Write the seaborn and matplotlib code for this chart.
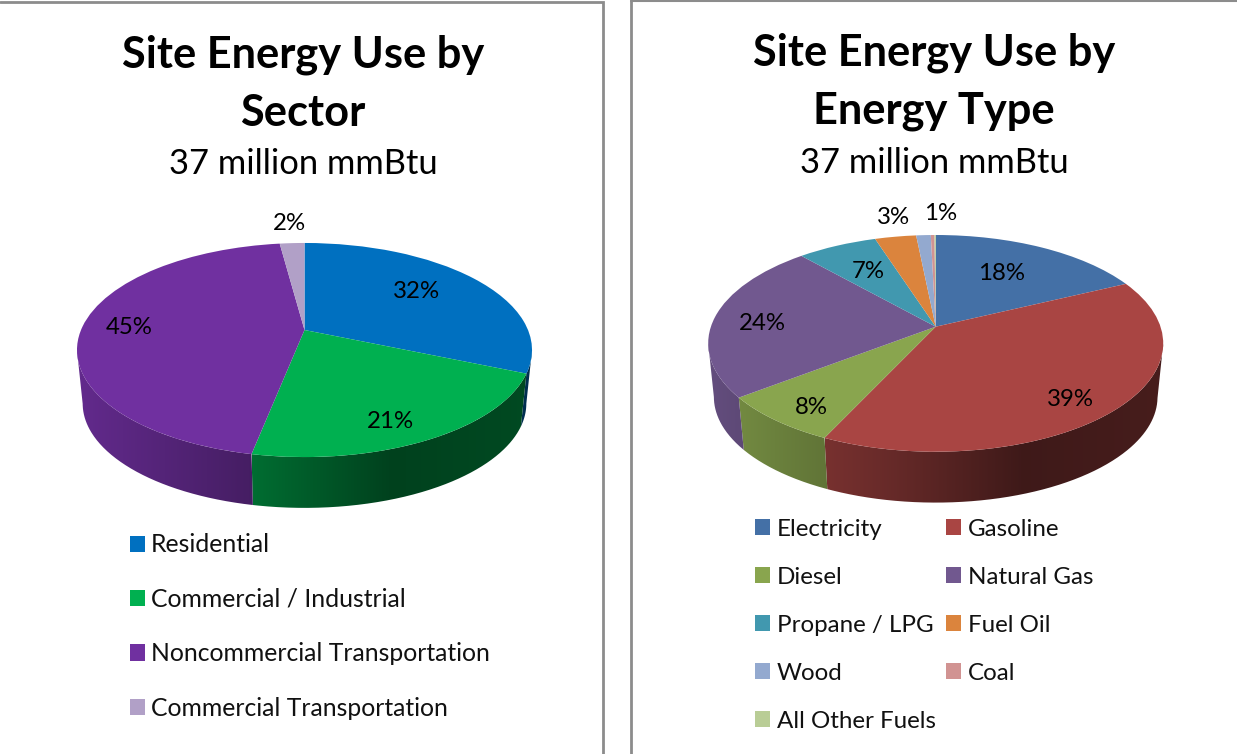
import numpy as np
import seaborn as sns
import matplotlib.pyplot as plt
from matplotlib.path import Path
from matplotlib.patches import PathPatch
from matplotlib.transforms import Transform

# data
sector_names = ['Residential', 'Commercial / Industrial', 'Noncommercial Transportation', 'Commercial Transportation']
sector_values = [31.4, 21.7, 44.8, 2.1]
sector_labels = ['32%', '21%', '45%', '2%']
fuel_names = ['Electricity', 'Gasoline', 'Diesel', 'Natural Gas', 'Propane / LPG', 'Fuel Oil', 'Wood', 'Coal', 'All Other Fuels']
fuel_values = [17.9, 39.1, 7.6, 23.8, 6.6, 3.4, 1.2, 0.3, 0.1]
fuel_labels = ['18%', '39%', '8%', '24%', '7%', '3%', '1%']
sector_colors = sns.color_palette(['#0070C0', '#00B050', '#7030A0', '#B1A0C7'])
fuel_colors = sns.color_palette(['#4470A6', '#A94543', '#89A54E', '#71588F', '#4198AF', '#DB843D', '#93A9CF', '#D19392', '#B9CD96'])

sns.set_theme(style='white')
plt.rcParams['font.family'] = ['Lato', 'DejaVu Sans']
W, H = 1237, 754


class TiltedDisc(Transform):
    # unit circle seen from above, near side looks bigger
    input_dims = 2
    output_dims = 2

    def __init__(self, cx, cy, a, b, k):
        super().__init__()
        self.cx, self.cy, self.a, self.b, self.k = cx, cy, a, b, k

    def transform_non_affine(self, values):
        v = np.asarray(values, dtype=float)
        d = 1 + self.k * v[:, 1]
        return np.column_stack([self.cx + self.a * v[:, 0] / d, self.cy - self.b * v[:, 1] / d])


def draw_wall(ax, wedge, color, top, low):
    th = np.radians(np.linspace(wedge.theta1, wedge.theta2, 400))
    keep = np.sin(th) < -top.k
    if keep.sum() < 2:
        return
    rim = np.column_stack([np.cos(th[keep]), np.sin(th[keep])])
    p1 = top.transform_non_affine(rim)
    p2 = low.transform_non_affine(rim)
    poly = np.vstack([p1, p2[::-1], p1[:1]])
    x0, x1 = poly[:, 0].min(), poly[:, 0].max()
    y0, y1 = poly[:, 1].min(), poly[:, 1].max()
    xs = np.linspace(x0, x1, 200)
    rel = (xs - top.cx) / 227.5
    shade = np.interp(rel, [-1, -0.23, 0.38, 1], [0.88, 0.62, 0.37, 0.42])
    img = (np.array(color)[None, None, :] * shade[None, :, None]).clip(0, 1)
    im = ax.imshow(img, extent=(x0, x1, y1, y0), aspect='auto', zorder=1, interpolation='bilinear')
    clip = PathPatch(Path(poly), transform=ax.transData)
    im.set_clip_path(clip)


def panel(ax, values, colors, labels, label_xy, disc, drop):
    wedges, _ = ax.pie(values, colors=colors, startangle=90, counterclock=False, radius=1)
    cx, cy, a, b, k = disc
    top = TiltedDisc(cx, cy, a, b, k)
    low = TiltedDisc(cx, cy + drop, a * 0.975, b * 0.975, k)
    for w, c in zip(wedges, colors):
        w.set_transform(top + ax.transData)
        w.set_zorder(2)
        w.set_linewidth(0)
        draw_wall(ax, w, c, top, low)
    for txt, (x, y) in zip(labels, label_xy):
        ax.text(x, y, txt, ha='center', va='center', fontsize=17.3, color='black', zorder=3)
    ax.set_aspect('auto')
    ax.set_xlim(0, W)
    ax.set_ylim(H, 0)
    ax.axis('off')
    return wedges


fig = plt.figure(figsize=(W / 100, H / 100), dpi=100)
ax1 = fig.add_axes([0, 0, 1, 1])
ax2 = fig.add_axes([0, 0, 1, 1])
ax2.patch.set_visible(False)

w1 = panel(ax1, sector_values, sector_colors, sector_labels,
           [(416, 291), (390, 421), (129, 327), (289, 224)],
           (304.5, 330, 223.5, 103.3, 0.187), 54)
w2 = panel(ax2, fuel_values, fuel_colors, fuel_labels,
           [(1002, 273), (1070, 399), (811, 407), (762, 323), (868, 271), (893, 217), (941, 213)],
           (935.7, 326.7, 224.8, 105.8, 0.1537), 54)

# titles
for ax, xc, y1, y2, y3, t1, t2 in [(ax1, 303, 55, 113, 164, 'Site Energy Use by', 'Sector'),
                                   (ax2, 934, 53, 111, 163, 'Site Energy Use by', 'Energy Type')]:
    ax.text(xc, y1, t1, ha='center', va='center', fontsize=31.2, fontweight='bold', color='black')
    ax.text(xc, y2, t2, ha='center', va='center', fontsize=31.2, fontweight='bold', color='black')
    ax.text(xc, y3, '37 million mmBtu', ha='center', va='center', fontsize=24.8, color='black')

# legends
ax1.legend(w1, sector_names, loc='upper left', bbox_to_anchor=(130, 533.5), bbox_transform=ax1.transData,
           frameon=False, fontsize=17.85, ncol=1, borderpad=0, borderaxespad=0, handlelength=0.625, handleheight=0.625,
           handletextpad=0.22, labelspacing=1.266, labelcolor='#111111')
order = list(range(0, 9, 2)) + list(range(1, 9, 2))
ax2.legend([w2[i] for i in order], [fuel_names[i] for i in order], loc='upper left', bbox_to_anchor=(755, 518.5),
           bbox_transform=ax2.transData, frameon=False, fontsize=17.4, ncol=2, borderpad=0, borderaxespad=0,
           handlelength=0.64, handleheight=0.64, handletextpad=0.26, labelspacing=1.122, columnspacing=0.42,
           labelcolor='#111111')

# panel frames
ax1.plot([0, 603, 603], [1.5, 1.5, H], color='#8c8c8c', lw=2, solid_joinstyle='miter', zorder=5)
ax2.plot([631, 631], [0, H], color='#8c8c8c', lw=2, zorder=5)
ax2.plot([631, W], [0.5, 0.5], color='#8c8c8c', lw=1.5, zorder=5)

fig.savefig('out.png', dpi=100)
